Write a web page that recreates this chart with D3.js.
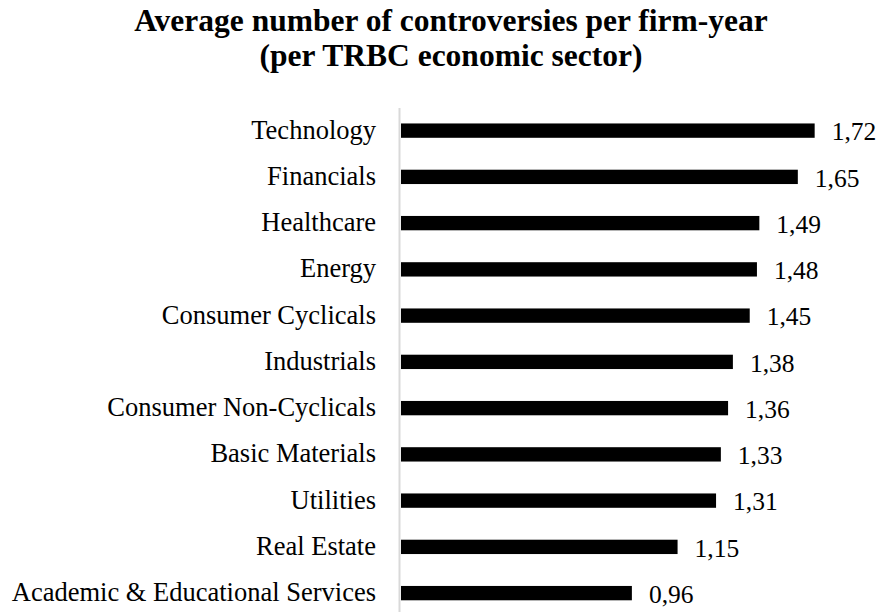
<!DOCTYPE html>
<html>
<head>
<meta charset="utf-8">
<script src="https://cdn.jsdelivr.net/npm/d3@7"></script>
<style>
  html, body { margin: 0; padding: 0; background: #ffffff; }
  svg { display: block; }
  text { font-family: "Liberation Serif", "Times New Roman", serif; fill: #000; }
</style>
</head>
<body>
<svg id="chart" width="878" height="612"></svg>
<script>
// Sectors, top to bottom
const sectors = [
  "Technology",
  "Financials",
  "Healthcare",
  "Energy",
  "Consumer Cyclicals",
  "Industrials",
  "Consumer Non-Cyclicals",
  "Basic Materials",
  "Utilities",
  "Real Estate",
  "Academic & Educational Services"
];

// Average number of controversies per firm-year
const averages = [1.72, 1.65, 1.49, 1.48, 1.45, 1.38, 1.36, 1.33, 1.31, 1.15, 0.96];

const titleLines = [
  "Average number of controversies per firm-year",
  "(per TRBC economic sector)"
];

const data = sectors.map((s, i) => ({ sector: s, value: averages[i] }));

const svg = d3.select("#chart");

const x = d3.scaleLinear().domain([0, 2]).range([401, 882]);
const y = d3.scaleBand()
  .domain(sectors)
  .range([107.5, 616.25])
  .paddingInner(0.69)
  .paddingOuter(0.345);

// Title
svg.append("text")
  .attr("x", 451)
  .attr("text-anchor", "middle")
  .style("font-weight", "bold")
  .style("font-size", "31.5px")
  .selectAll("tspan")
  .data(titleLines)
  .join("tspan")
  .attr("x", 451)
  .attr("y", (d, i) => 31 + i * 34.5)
  .text(d => d);

// Bars
svg.append("g")
  .selectAll("rect")
  .data(data)
  .join("rect")
  .attr("x", x(0))
  .attr("y", d => y(d.sector))
  .attr("width", d => x(d.value) - x(0))
  .attr("height", y.bandwidth())
  .attr("fill", "#000");

// Category axis: light vertical line plus sector names
const yAxis = d3.axisLeft(y).tickSize(0).tickPadding(23);
const gAxis = svg.append("g")
  .attr("transform", "translate(399,0)")
  .call(yAxis);
gAxis.select(".domain")
  .attr("stroke", "#d9d9d9")
  .attr("stroke-width", 2);
gAxis.selectAll(".tick text")
  .style("font-family", "\"Liberation Serif\", \"Times New Roman\", serif")
  .style("font-size", "26.5px")
  .attr("fill", "#000")
  .attr("dy", "0.3em");

// Value labels
svg.append("g")
  .selectAll("text")
  .data(data)
  .join("text")
  .attr("x", d => x(d.value) + 17)
  .attr("y", d => y(d.sector) + y.bandwidth() / 2)
  .attr("dy", "0.38em")
  .style("font-size", "25.5px")
  .text(d => d3.format(".2f")(d.value).replace(".", ","));
</script>
</body>
</html>
